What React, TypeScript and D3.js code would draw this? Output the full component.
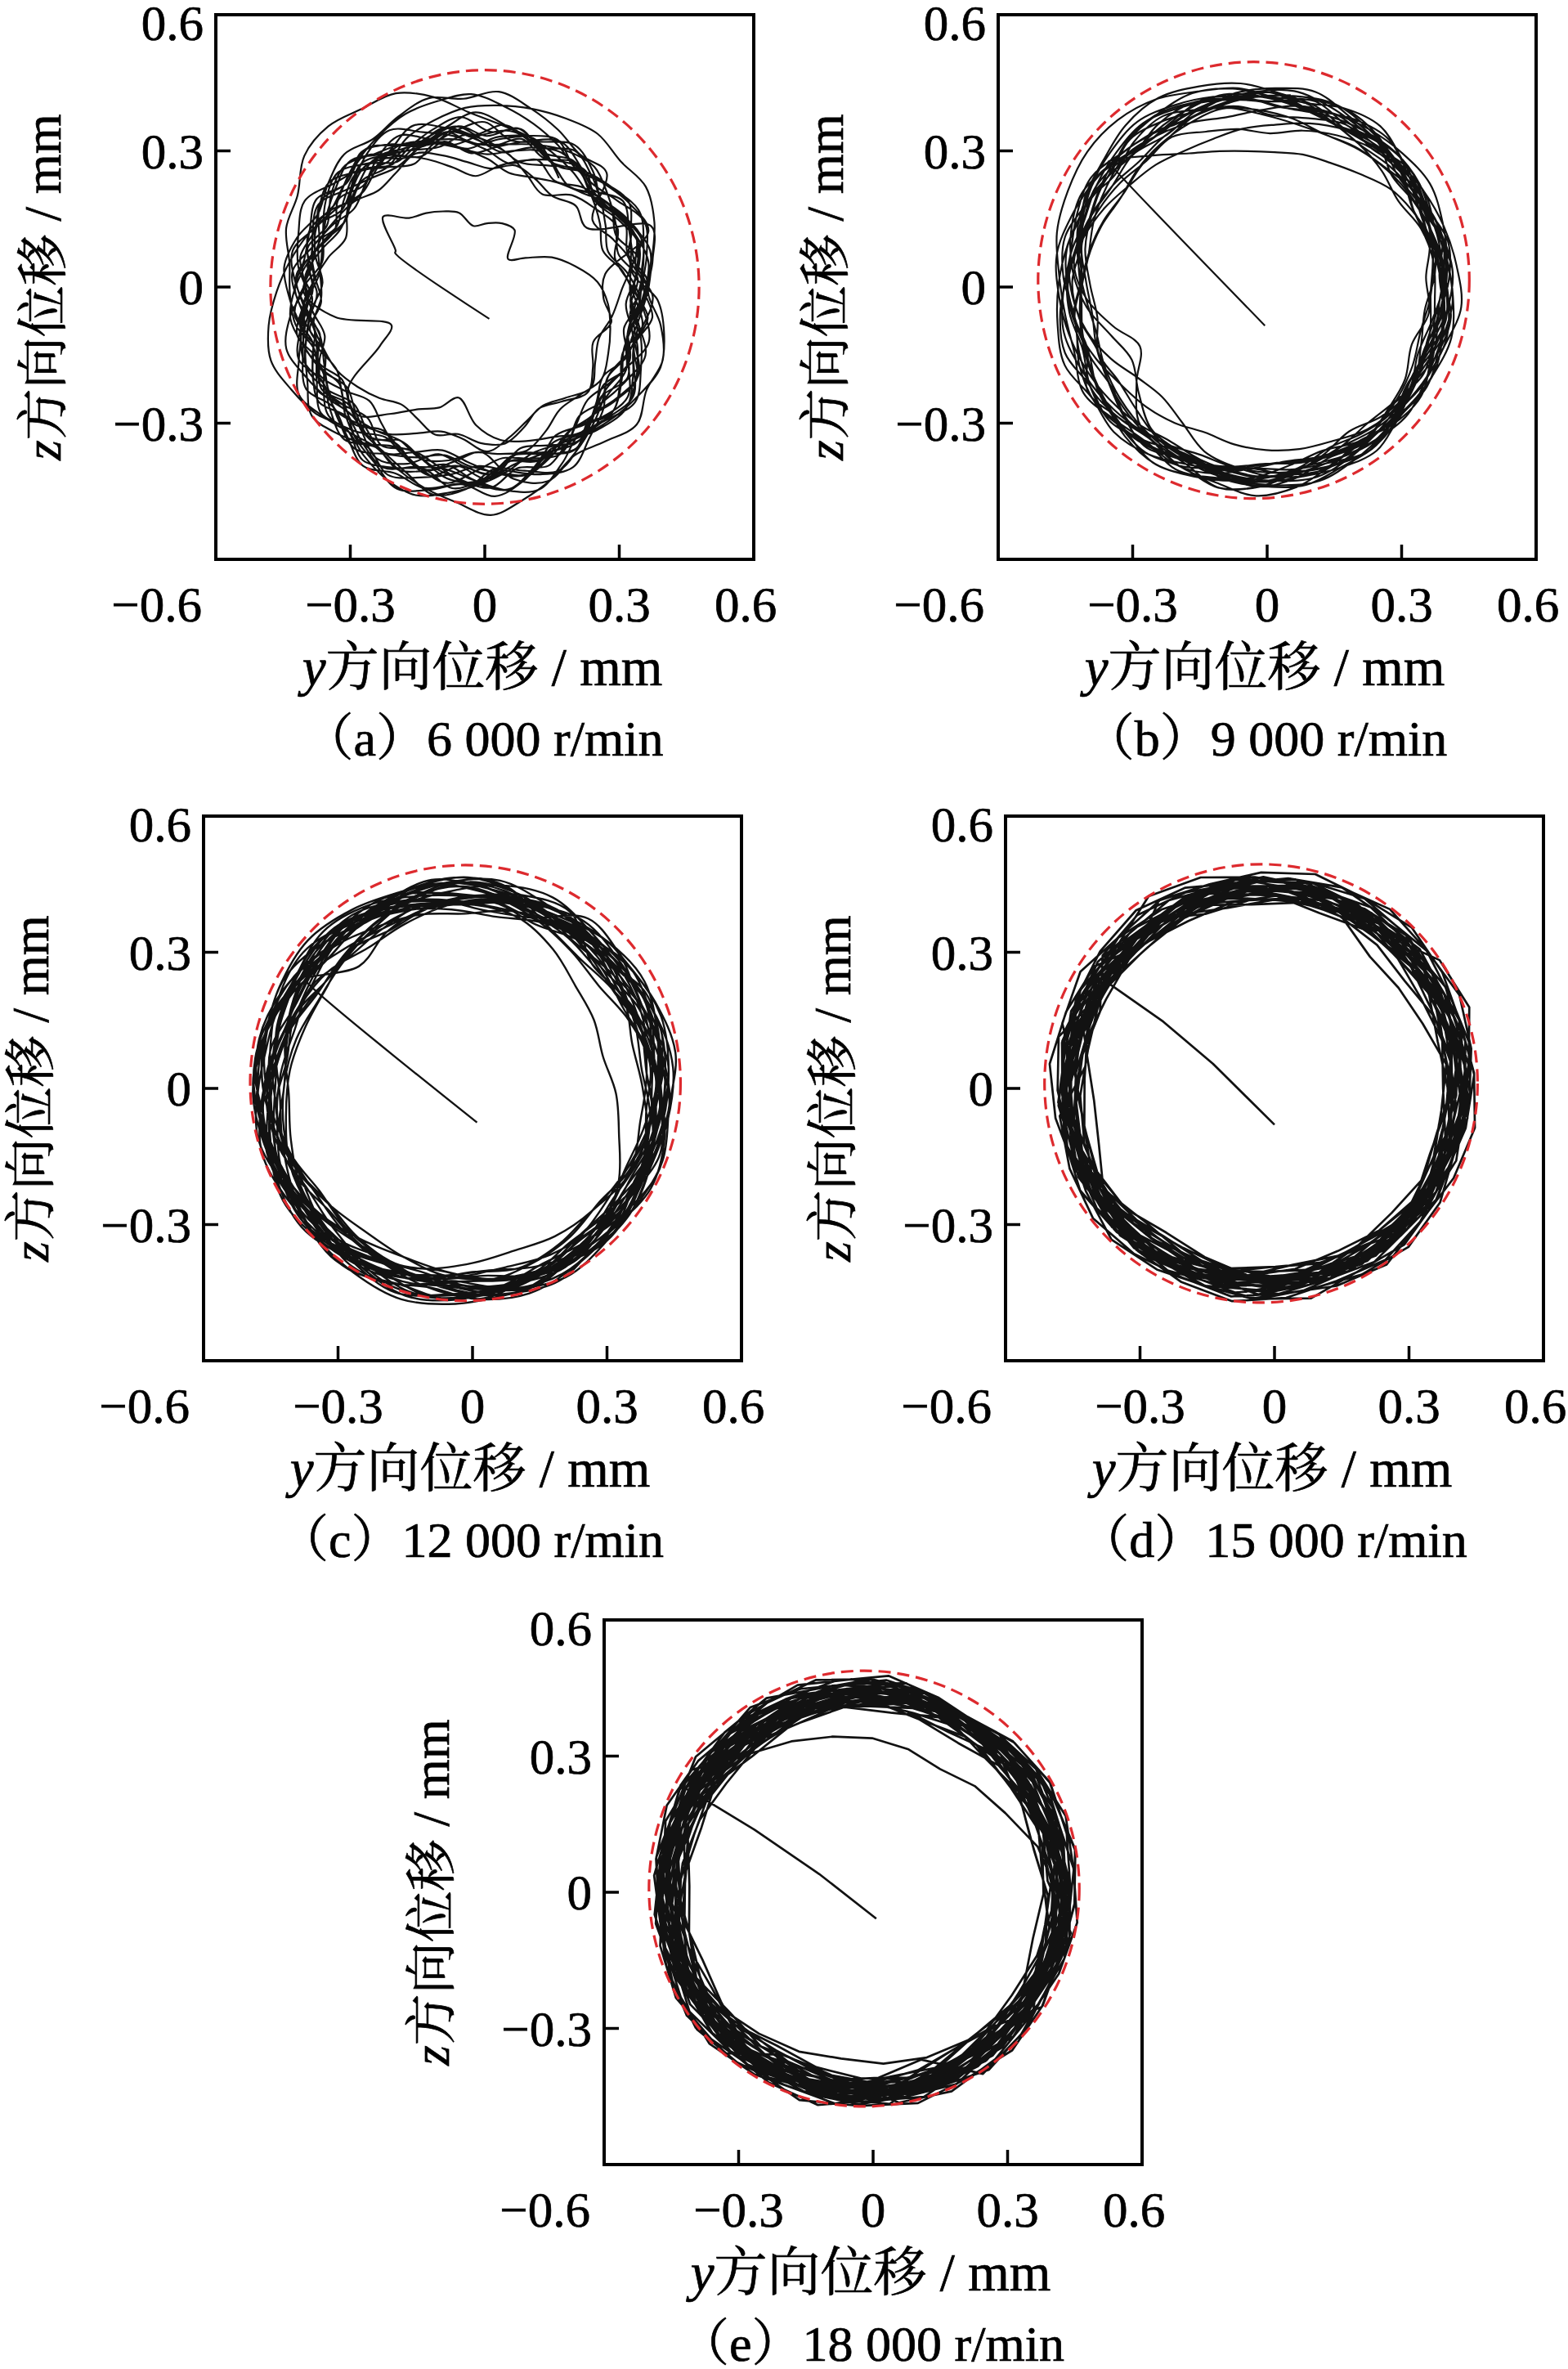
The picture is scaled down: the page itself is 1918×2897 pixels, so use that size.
import React from "react";
import * as d3 from "d3";

const W = 1918;
const H = 2897;
const PW = 658;
const PH = 666;

const FONT = "'Liberation Serif','Times New Roman','Noto Serif CJK SC','Noto Sans CJK SC',serif";

// axis ticks (mm)
const tickValues = [-0.6, -0.3, 0, 0.3, 0.6];
const innerTicks = [-0.3, 0, 0.3];
const yLabelTicks = [-0.3, 0, 0.3, 0.6];

// panel titles
const titles = ["（a）6 000 r/min", "（b）9 000 r/min", "（c）12 000 r/min", "（d）15 000 r/min", "（e）18 000 r/min"];

// red dashed reference circles: centre (y, z) and radius, mm
const ringCenters: [number, number][] = [[0, 0], [-0.03, 0.015], [-0.016, 0.012], [-0.03, 0.011], [-0.02, 0.008]];
const ringRadius = [0.478, 0.481, 0.48, 0.483, 0.48];

// orbit centres (y, z), mm
const orbitCenters: [number, number][] = [[-0.035, -0.035], [-0.025, 0], [-0.02, -0.005], [-0.024, 0.006], [-0.02, 0]];

// sampling: angle of first orbit sample and angle advanced per sample (deg, clockwise)
const startAngles = [145, 140, 145, 145, 145];
const sampleSteps = [9.7, 11.6, 14.6, 14.55, 14.5];

// start-up paths from rest to the orbit, (y, z) mm
const startA: [number, number][] = [[0.01, -0.07], [-0.2, 0.075]];
const startB: [number, number][] = [[-0.005, -0.085], [-0.35, 0.27]];
const startC: [number, number][] = [[0.01, -0.075], [-0.37, 0.235]];
const startD: [number, number][] = [[0.0, -0.08], [-0.137, 0.054], [-0.248, 0.147], [-0.382, 0.24]];
const startE: [number, number][] = [[0.007, -0.058], [-0.12, 0.04], [-0.265, 0.138], [-0.388, 0.212], [-0.43, 0.235]];

// orbit radius samples, one row per revolution, 0.01 mm
const orbitA = [
  [20, 27, 23, 22, 21, 20, 17, 18, 19, 19, 13, 16, 21, 25, 29, 31, 32, 33, 34, 32, 31, 33, 35, 34, 33, 35, 36, 34, 35, 36, 37, 36, 38, 37, 39, 38],
  [39, 41, 38, 40, 37, 36, 38, 35, 37, 39, 36, 34, 37, 35, 33, 36, 38, 35, 37, 34, 36, 38, 35, 33, 31, 27, 21, 24, 26, 30, 35, 33, 22, 18, 30, 37],
  [36, 38, 40, 37, 35, 34, 36, 39, 37, 35, 33, 35, 38, 36, 34, 32, 35, 37, 39, 36, 38, 40, 37, 35, 38, 36, 39, 41, 38, 40, 42, 39, 41, 38, 36, 39],
  [40, 41, 44, 45, 49, 50, 49, 49, 46, 42, 40, 39, 38, 37, 36, 38, 40, 41, 39, 37, 36, 38, 40, 39, 37, 38, 36, 39, 40, 42, 41, 43, 40, 38, 41, 39],
  [37, 35, 38, 36, 39, 41, 38, 36, 39, 41, 43, 44, 45, 46, 47, 46, 47, 45, 42, 40, 38, 37, 39, 36, 38, 40, 37, 35, 38, 36, 39, 37, 35, 38, 40, 37],
  [34, 36, 33, 35, 37, 34, 36, 38, 35, 33, 36, 34, 32, 30, 31, 33, 35, 38, 36, 39, 37, 40, 38, 41, 39, 37, 40, 38, 41, 43, 40, 42, 44, 41, 39, 36],
  [38, 36, 35, 37, 39, 36, 34, 37, 35, 38, 40, 37, 36, 34, 32, 35, 33, 36, 38, 40, 37, 39, 36, 38, 41, 39, 37, 40, 42, 39, 37, 41, 43, 40, 38, 37],
  [35, 33, 36, 34, 37, 35, 33, 31, 34, 36, 38, 35, 37, 39, 36, 34, 31, 29, 33, 35, 37, 34, 36, 39, 41, 38, 36, 37, 39, 36, 34, 38, 40, 37, 35, 36],
  [39, 37, 34, 36, 33, 35, 37, 36, 38, 35, 37, 40, 42, 39, 37, 35, 36, 38, 40, 41, 39, 37, 35, 38, 36, 39, 41, 43, 40, 38, 41, 44, 42, 39, 37, 38],
  [41, 39, 37, 40, 38, 36, 39, 37, 34, 36, 39, 41, 38, 36, 33, 30, 28, 31, 34, 37, 39, 36, 38, 40, 38, 35, 37, 39, 42, 40, 38, 36, 39, 42, 40, 39],
  [36, 34, 37, 35, 33, 36, 38, 40, 39, 37, 35, 33, 36, 38, 35, 37, 39, 42, 40, 38, 36, 34, 37, 39, 40, 38, 36, 38, 37, 35, 38, 40, 43, 41, 38, 36],
  [38, 40, 42, 39, 41, 43, 40, 38, 36, 34, 37, 35, 33, 36, 39, 37, 34, 36, 33, 35, 38, 41, 39, 37, 38, 40, 38, 41, 39, 37, 35, 37, 39, 41, 43, 40],
  [33, 35, 38, 36, 34, 37, 35, 33, 35, 38, 36, 39, 41, 43, 40, 38, 35, 37, 36, 34, 37, 39, 41, 38, 40, 42, 39, 37, 36, 38, 41, 39, 37, 35, 38, 37],
  [37, 39, 36, 38, 40, 38, 41, 39, 37, 40, 38, 36, 34, 35, 37, 39, 41, 38, 36, 35, 37, 35, 38, 36, 39, 37, 41, 39, 38, 40, 37, 39, 41, 42, 40, 38],
  [40, 38, 41, 39, 37, 35, 37, 34, 36, 39, 37, 35, 38, 40, 37, 35, 33, 35, 38, 37, 39, 41, 38, 40, 37, 39, 38, 40, 43, 41, 39, 41, 38, 40, 42, 39],
  [39, 37, 35, 38, 36, 34, 38, 40, 37, 35, 38, 36, 39, 37, 35, 38, 36, 39, 41, 39, 38, 36, 39, 37, 40, 38, 41, 39, 37, 40, 42, 40, 38, 36, 38, 37],
  [37, 36, 38, 40, 38, 35, 33, 35, 38, 36, 34, 37, 39, 37, 35, 33, 36, 38, 37, 39, 41, 38, 36, 38, 40, 37, 39, 42, 40, 37, 39, 37, 40, 38, 36, 38],
  [35, 37, 39, 37, 40, 38, 36, 34, 36, 38, 41, 39, 37, 35, 34, 36, 39, 41, 38, 36, 34, 36, 38, 37, 35, 37, 39, 38, 36, 39, 41, 43, 41, 39, 37, 36],
  [38, 41, 39, 36, 38, 40, 42, 39, 36, 38, 35, 37, 36, 38, 40, 42, 40, 37, 39, 38, 40, 38, 41, 39, 36, 38, 36, 34, 37, 39, 38, 36, 39, 41, 39, 38],
  [36, 38, 36, 34, 36, 39, 37, 35, 37, 40, 38, 36, 33, 31, 34, 37, 35, 37, 35, 37, 39, 37, 34, 36, 38, 41, 39, 37, 40, 38, 36, 38, 36, 39, 41, 37],
  [42, 44, 45, 43, 41, 39, 37, 36, 38, 40, 42, 44, 43, 41, 39, 42, 44, 46, 45, 43, 41, 39, 37, 38, 40, 42, 44, 45, 46, 44, 42, 40, 38, 40, 42, 43],
  [31, 30, 32, 29, 31, 33, 30, 28, 30, 32, 31, 29, 30, 28, 27, 29, 31, 33, 34, 35, 33, 34, 36, 35, 34, 32, 33, 35, 33, 31, 30, 32, 31, 30, 32, 31],
  [44, 42, 40, 43, 45, 44, 46, 43, 41, 43, 45, 47, 44, 42, 40, 38, 39, 41, 43, 40, 38, 40, 42, 41, 39, 41, 43, 42, 44, 46, 45, 47, 45, 43, 41, 42],
  [33, 35, 37, 34, 32, 30, 31, 33, 30, 28, 29, 31, 33, 30, 29, 31, 34, 36, 38, 37, 39, 38, 36, 37, 35, 33, 34, 36, 35, 37, 36, 34, 33, 35, 37, 34],
];

const orbitB = [
  [43, 37, 33, 31, 30, 30, 31, 32, 34, 37, 39, 41, 42, 41, 40, 41, 42, 41, 40, 39, 40, 41, 40, 39, 35, 32, 34, 38, 41, 43],
  [44, 42, 40, 41, 43, 42, 40, 41, 43, 44, 42, 41, 43, 42, 40, 39, 41, 40, 38, 40, 42, 43, 41, 40, 42, 44, 43, 45, 44, 42],
  [41, 43, 44, 46, 47, 46, 45, 43, 42, 40, 41, 43, 42, 44, 43, 41, 42, 44, 43, 41, 43, 42, 40, 41, 43, 42, 44, 43, 41, 42],
  [42, 40, 38, 36, 35, 34, 34, 35, 36, 38, 40, 42, 41, 39, 40, 42, 43, 41, 40, 42, 41, 39, 40, 42, 43, 44, 42, 43, 45, 43],
  [43, 44, 46, 47, 48, 48, 47, 45, 44, 42, 43, 41, 42, 40, 41, 43, 42, 44, 42, 41, 43, 44, 42, 41, 40, 42, 43, 41, 42, 44],
  [40, 41, 39, 41, 42, 40, 42, 43, 41, 40, 38, 39, 41, 40, 42, 41, 43, 42, 44, 43, 41, 42, 44, 43, 45, 46, 44, 43, 41, 42],
  [43, 42, 41, 43, 44, 42, 41, 43, 42, 41, 43, 44, 45, 43, 42, 41, 39, 40, 38, 39, 37, 39, 40, 42, 41, 43, 44, 42, 41, 43],
  [41, 39, 38, 37, 38, 40, 39, 38, 37, 38, 36, 35, 34, 36, 38, 40, 41, 42, 43, 41, 42, 40, 41, 43, 44, 43, 42, 44, 45, 43],
  [44, 43, 42, 40, 41, 39, 40, 42, 41, 43, 44, 45, 44, 42, 41, 40, 42, 39, 40, 41, 40, 38, 39, 41, 40, 42, 43, 42, 44, 45],
  [42, 41, 40, 39, 38, 40, 41, 40, 42, 41, 40, 39, 41, 42, 41, 43, 44, 43, 41, 42, 43, 44, 43, 42, 40, 41, 40, 39, 41, 42],
  [41, 42, 44, 45, 44, 46, 45, 44, 43, 42, 41, 43, 44, 43, 42, 43, 41, 40, 42, 43, 41, 40, 41, 42, 43, 44, 43, 45, 44, 43],
  [43, 42, 41, 40, 38, 37, 38, 36, 37, 39, 40, 41, 40, 42, 43, 42, 41, 42, 40, 41, 42, 43, 42, 44, 43, 41, 40, 42, 43, 42],
  [42, 43, 42, 41, 40, 41, 39, 40, 41, 42, 41, 40, 39, 38, 39, 40, 41, 43, 42, 44, 45, 43, 42, 41, 42, 41, 42, 43, 42, 44],
  [44, 45, 44, 43, 41, 42, 43, 42, 41, 40, 39, 38, 37, 36, 37, 38, 40, 41, 42, 41, 42, 41, 42, 43, 44, 45, 46, 44, 43, 42],
  [42, 41, 40, 39, 40, 41, 42, 43, 44, 43, 41, 42, 43, 42, 43, 41, 40, 41, 40, 38, 37, 37, 38, 39, 40, 41, 42, 41, 40, 41],
  [41, 40, 38, 37, 36, 35, 34, 35, 36, 37, 39, 41, 42, 41, 40, 39, 40, 41, 42, 43, 42, 41, 40, 39, 40, 41, 42, 43, 44, 43],
  [43, 44, 43, 42, 41, 42, 43, 44, 45, 43, 42, 41, 40, 39, 38, 39, 40, 41, 40, 39, 38, 39, 41, 42, 43, 44, 45, 44, 43, 42],
  [41, 40, 41, 42, 43, 42, 41, 40, 39, 40, 41, 42, 43, 44, 43, 42, 43, 44, 42, 41, 40, 41, 42, 41, 40, 39, 38, 37, 39, 40],
  [40, 41, 42, 40, 39, 40, 41, 42, 43, 44, 45, 44, 42, 41, 40, 39, 38, 37, 36, 37, 38, 39, 40, 39, 38, 37, 38, 39, 41, 42],
  [42, 43, 44, 43, 42, 41, 40, 41, 42, 41, 40, 39, 40, 41, 42, 43, 44, 45, 44, 43, 42, 41, 40, 41, 42, 43, 44, 43, 42, 41],
  [41, 40, 39, 38, 39, 40, 41, 42, 43, 42, 40, 38, 34, 32, 33, 36, 39, 41, 42, 41, 42, 43, 44, 43, 42, 41, 40, 41, 42, 43],
  [43, 42, 43, 44, 45, 44, 43, 42, 41, 40, 39, 40, 41, 42, 43, 42, 41, 40, 39, 40, 41, 42, 41, 40, 41, 42, 43, 44, 43, 42],
  [42, 41, 40, 41, 42, 43, 44, 43, 42, 43, 44, 43, 42, 41, 40, 40, 34, 29, 33, 38, 41, 40, 41, 42, 41, 40, 41, 42, 41, 40],
  [40, 41, 42, 41, 40, 39, 40, 41, 42, 43, 44, 45, 44, 43, 42, 41, 40, 39, 38, 37, 38, 40, 42, 43, 44, 45, 44, 43, 42, 43],
];

const orbitC = [
  [43, 36, 39, 41, 41, 40, 37, 34, 33, 32, 34, 36, 40, 43, 44, 43, 42, 43, 44, 45, 44, 45, 46, 45],
  [45, 43, 44, 42, 41, 42, 43, 41, 42, 44, 45, 43, 44, 42, 41, 43, 44, 42, 45, 46, 44, 45, 47, 46],
  [46, 44, 45, 43, 44, 46, 44, 43, 41, 40, 42, 43, 45, 44, 42, 41, 43, 41, 42, 44, 45, 46, 44, 45],
  [44, 42, 43, 41, 40, 41, 43, 44, 45, 43, 46, 45, 43, 44, 42, 43, 45, 44, 43, 41, 42, 44, 45, 44],
  [43, 44, 46, 47, 45, 44, 42, 43, 41, 39, 38, 40, 42, 41, 43, 44, 42, 43, 44, 46, 45, 47, 46, 44],
  [45, 47, 46, 45, 46, 44, 45, 46, 44, 45, 43, 41, 43, 45, 44, 43, 45, 44, 46, 44, 43, 42, 44, 43],
  [42, 40, 39, 38, 38, 40, 39, 41, 42, 44, 45, 46, 44, 45, 43, 42, 41, 43, 44, 46, 45, 46, 44, 43],
  [44, 45, 43, 44, 42, 43, 45, 43, 41, 42, 40, 42, 43, 44, 46, 45, 47, 45, 43, 42, 44, 45, 47, 45],
  [43, 41, 42, 40, 41, 43, 42, 44, 45, 43, 44, 45, 44, 42, 41, 43, 41, 40, 42, 43, 44, 45, 46, 44],
  [45, 44, 46, 45, 47, 46, 44, 45, 43, 41, 42, 43, 42, 41, 40, 42, 44, 43, 45, 46, 44, 43, 42, 44],
  [44, 42, 41, 43, 44, 42, 41, 40, 38, 39, 41, 43, 45, 44, 46, 45, 43, 44, 42, 41, 43, 44, 45, 46],
  [46, 44, 43, 42, 41, 40, 39, 38, 39, 41, 44, 45, 43, 42, 44, 45, 46, 45, 44, 42, 43, 45, 44, 46],
  [44, 46, 47, 45, 44, 42, 43, 44, 45, 46, 44, 42, 43, 41, 42, 43, 45, 43, 42, 44, 45, 46, 47, 45],
  [43, 42, 44, 45, 46, 47, 45, 43, 44, 42, 43, 45, 46, 47, 45, 44, 42, 41, 40, 42, 43, 44, 43, 44],
  [45, 43, 42, 41, 40, 42, 43, 45, 46, 44, 43, 41, 40, 39, 41, 42, 44, 45, 46, 44, 46, 47, 45, 44],
  [44, 45, 43, 42, 41, 43, 44, 46, 47, 45, 44, 43, 45, 46, 44, 42, 41, 40, 42, 43, 44, 46, 44, 45],
  [46, 45, 43, 44, 45, 46, 47, 45, 43, 42, 40, 39, 41, 43, 44, 46, 47, 45, 44, 43, 41, 43, 44, 45],
  [45, 44, 42, 41, 39, 38, 39, 41, 43, 45, 46, 47, 45, 43, 42, 41, 43, 44, 46, 47, 45, 43, 42, 44],
  [43, 44, 46, 45, 43, 41, 43, 44, 46, 44, 42, 41, 42, 44, 45, 47, 45, 44, 42, 41, 43, 44, 46, 45],
  [44, 42, 41, 40, 41, 43, 44, 46, 44, 42, 41, 43, 44, 46, 45, 42, 40, 39, 41, 43, 44, 46, 47, 46],
  [45, 46, 45, 44, 42, 40, 39, 40, 42, 44, 46, 44, 42, 41, 43, 45, 46, 47, 45, 43, 42, 41, 42, 44],
  [44, 43, 45, 46, 47, 46, 44, 42, 41, 40, 41, 43, 45, 46, 45, 43, 44, 46, 45, 43, 44, 45, 44, 43],
  [43, 41, 40, 41, 43, 44, 46, 47, 45, 43, 42, 40, 39, 41, 43, 45, 46, 44, 42, 41, 42, 44, 46, 47],
  [46, 45, 44, 45, 44, 42, 40, 41, 43, 45, 47, 46, 44, 43, 41, 39, 40, 42, 44, 46, 45, 43, 44, 45],
  [45, 43, 42, 40, 39, 38, 37, 38, 40, 42, 44, 45, 46, 45, 43, 42, 43, 45, 46, 44, 43, 44, 46, 45],
  [44, 45, 46, 44, 43, 44, 45, 46, 44, 42, 41, 42, 44, 45, 46, 47, 46, 44, 43, 45, 46, 45, 43, 44],
  [43, 42, 41, 43, 45, 46, 45, 43, 42, 41, 43, 44, 46, 45, 43, 42, 44, 45, 47, 46, 44, 43, 45, 46],
  [40, 41, 39, 40, 42, 41, 39, 40, 41, 40, 42, 41, 40, 39, 41, 42, 40, 41, 39, 40, 41, 42, 40, 41],
  [47, 46, 47, 48, 46, 47, 46, 45, 47, 46, 47, 48, 47, 46, 45, 46, 47, 46, 47, 48, 47, 46, 47, 46],
  [41, 39, 40, 42, 41, 40, 41, 39, 40, 41, 42, 40, 41, 40, 39, 41, 42, 41, 40, 41, 39, 40, 42, 41],
];

const orbitD = [
  [44, 41, 41, 42, 43, 44, 45, 44, 42, 40, 41, 43, 44, 45, 44, 43, 42, 44, 45, 44, 43, 39, 38, 40],
  [45, 43, 44, 45, 46, 45, 43, 44, 42, 43, 44, 45, 44, 42, 43, 44, 45, 46, 44, 43, 44, 45, 46, 44],
  [43, 42, 43, 44, 45, 44, 43, 41, 37, 37, 38, 41, 43, 44, 45, 44, 43, 42, 43, 44, 45, 44, 43, 44],
  [45, 44, 42, 43, 44, 45, 46, 45, 44, 43, 42, 43, 44, 46, 45, 43, 42, 41, 43, 44, 45, 46, 45, 46],
  [44, 45, 46, 45, 44, 43, 42, 41, 42, 44, 45, 46, 45, 44, 43, 42, 44, 45, 44, 43, 42, 43, 44, 45],
  [43, 42, 41, 42, 43, 44, 45, 44, 43, 42, 41, 42, 43, 44, 45, 44, 43, 42, 43, 44, 45, 46, 45, 44],
  [44, 43, 42, 41, 40, 41, 42, 43, 44, 45, 44, 43, 48, 49, 46, 44, 43, 44, 45, 44, 43, 42, 43, 44],
  [45, 46, 45, 44, 43, 42, 43, 44, 45, 44, 43, 42, 41, 42, 43, 44, 40, 42, 43, 44, 45, 44, 43, 42],
  [42, 43, 44, 45, 44, 43, 42, 41, 40, 41, 42, 43, 44, 45, 44, 43, 42, 43, 44, 45, 44, 43, 44, 45],
  [46, 45, 44, 43, 42, 41, 42, 43, 44, 45, 46, 45, 44, 43, 42, 41, 42, 43, 44, 43, 42, 41, 42, 43],
  [44, 45, 46, 47, 46, 45, 44, 43, 42, 43, 44, 45, 44, 43, 42, 43, 44, 45, 46, 45, 44, 43, 44, 45],
  [43, 42, 41, 42, 43, 44, 43, 42, 41, 40, 41, 42, 43, 44, 45, 46, 45, 44, 43, 42, 43, 44, 45, 44],
  [45, 44, 45, 46, 45, 44, 43, 44, 45, 46, 45, 44, 43, 42, 41, 42, 43, 44, 45, 46, 45, 44, 43, 44],
  [42, 41, 42, 43, 44, 45, 46, 45, 44, 43, 42, 41, 42, 43, 44, 45, 44, 43, 42, 41, 42, 43, 44, 45],
  [44, 43, 42, 43, 44, 43, 42, 41, 42, 43, 44, 45, 49, 48, 46, 45, 44, 43, 44, 45, 46, 45, 44, 43],
  [43, 44, 45, 44, 43, 42, 41, 42, 43, 42, 41, 42, 43, 44, 45, 44, 43, 44, 45, 44, 43, 42, 41, 42],
  [43, 44, 45, 46, 45, 44, 45, 46, 45, 44, 43, 42, 43, 44, 43, 42, 41, 42, 43, 44, 45, 46, 45, 44],
  [45, 44, 43, 42, 41, 42, 43, 44, 43, 42, 41, 40, 41, 42, 43, 44, 45, 46, 45, 44, 43, 44, 45, 46],
  [44, 43, 44, 45, 46, 47, 46, 45, 44, 43, 44, 45, 46, 45, 44, 43, 42, 41, 42, 43, 44, 45, 44, 43],
  [42, 43, 42, 41, 42, 43, 44, 45, 46, 45, 44, 43, 42, 43, 44, 45, 46, 45, 44, 43, 42, 41, 42, 43],
  [44, 45, 44, 43, 42, 41, 40, 41, 42, 43, 44, 45, 44, 43, 42, 43, 44, 45, 46, 45, 44, 45, 46, 45],
  [44, 43, 42, 43, 44, 45, 44, 43, 42, 41, 42, 43, 44, 45, 46, 45, 44, 43, 42, 43, 44, 45, 44, 43],
  [43, 44, 45, 46, 45, 44, 43, 42, 43, 44, 45, 46, 45, 44, 43, 42, 41, 42, 43, 44, 43, 42, 43, 44],
  [45, 46, 45, 44, 43, 44, 45, 44, 43, 42, 41, 42, 43, 42, 43, 44, 45, 44, 43, 42, 43, 44, 45, 46],
  [45, 44, 43, 42, 43, 44, 45, 46, 45, 44, 43, 44, 45, 44, 43, 44, 43, 42, 41, 42, 43, 44, 43, 44],
  [43, 42, 43, 44, 45, 44, 43, 42, 41, 42, 43, 44, 45, 46, 45, 44, 45, 46, 45, 44, 43, 42, 43, 42],
  [42, 43, 44, 43, 42, 41, 42, 43, 44, 45, 44, 43, 42, 41, 42, 43, 44, 43, 44, 45, 46, 45, 44, 45],
  [46, 45, 44, 45, 46, 45, 44, 43, 42, 43, 44, 45, 46, 45, 44, 43, 42, 43, 44, 43, 42, 43, 44, 45],
  [44, 43, 42, 41, 42, 43, 44, 45, 44, 43, 42, 43, 44, 45, 44, 43, 44, 45, 46, 45, 44, 43, 42, 43],
  [43, 44, 45, 44, 43, 42, 43, 44, 45, 46, 45, 44, 43, 42, 43, 44, 45, 44, 43, 44, 45, 46, 45, 44],
  [40, 41, 42, 41, 40, 39, 41, 42, 41, 40, 42, 41, 40, 41, 42, 40, 39, 41, 42, 41, 40, 41, 42, 41],
  [47, 46, 47, 48, 47, 46, 45, 46, 47, 48, 47, 46, 47, 46, 47, 48, 47, 46, 45, 46, 47, 48, 47, 46],
  [41, 42, 40, 41, 42, 43, 41, 40, 41, 42, 40, 41, 43, 42, 41, 40, 42, 41, 40, 42, 43, 42, 41, 40],
  [46, 47, 46, 45, 46, 47, 48, 47, 46, 47, 46, 45, 47, 48, 47, 46, 47, 46, 47, 48, 46, 45, 46, 47],
  [42, 41, 43, 42, 40, 41, 42, 41, 43, 42, 41, 40, 41, 42, 43, 41, 40, 42, 41, 40, 42, 43, 41, 42],
  [47, 48, 46, 47, 46, 45, 46, 47, 48, 47, 46, 47, 46, 45, 46, 48, 47, 46, 47, 46, 47, 48, 47, 46],
  [40, 42, 41, 40, 41, 43, 42, 40, 41, 42, 43, 41, 40, 42, 41, 40, 41, 43, 42, 41, 40, 41, 42, 43],
  [46, 45, 46, 47, 48, 47, 45, 46, 47, 46, 47, 48, 47, 46, 45, 46, 47, 46, 48, 47, 46, 45, 46, 47],
];

const orbitE = [
  [47, 40, 37, 35, 34, 33, 32, 34, 36, 40, 43, 44, 45, 44, 45, 46, 45, 44, 45, 46, 45, 46, 47, 46],
  [45, 44, 43, 44, 45, 46, 45, 44, 43, 42, 43, 44, 45, 44, 43, 42, 43, 44, 45, 44, 45, 46, 45, 44],
  [44, 43, 42, 41, 40, 41, 42, 43, 44, 45, 46, 45, 44, 43, 44, 45, 46, 45, 44, 43, 42, 43, 44, 45],
  [46, 45, 44, 43, 42, 43, 44, 45, 44, 43, 42, 41, 42, 43, 44, 45, 44, 43, 42, 43, 44, 45, 46, 45],
  [45, 46, 45, 44, 43, 42, 41, 42, 43, 44, 45, 44, 43, 42, 41, 42, 43, 44, 45, 46, 45, 44, 43, 44],
  [43, 42, 41, 40, 41, 42, 43, 44, 45, 44, 43, 42, 43, 44, 45, 46, 45, 44, 43, 44, 45, 46, 45, 44],
  [44, 45, 46, 45, 44, 43, 42, 43, 44, 45, 46, 45, 44, 43, 42, 43, 44, 45, 44, 43, 42, 43, 44, 45],
  [45, 44, 43, 42, 41, 40, 39, 40, 41, 42, 43, 44, 45, 46, 45, 44, 43, 42, 43, 44, 45, 44, 43, 44],
  [44, 43, 44, 45, 46, 45, 44, 43, 42, 41, 42, 43, 44, 45, 44, 43, 44, 45, 46, 45, 44, 43, 42, 43],
  [43, 44, 45, 44, 43, 42, 43, 44, 45, 46, 45, 44, 43, 42, 41, 40, 41, 42, 43, 44, 45, 46, 45, 44],
  [44, 45, 44, 43, 42, 41, 42, 43, 44, 43, 42, 41, 42, 43, 44, 45, 46, 45, 44, 43, 44, 45, 46, 45],
  [45, 44, 43, 44, 45, 46, 45, 44, 43, 42, 41, 42, 43, 44, 45, 44, 43, 42, 41, 42, 43, 44, 45, 46],
  [46, 45, 44, 43, 42, 43, 44, 45, 46, 45, 44, 43, 42, 43, 44, 45, 44, 43, 44, 45, 46, 45, 44, 43],
  [43, 42, 43, 44, 45, 44, 43, 42, 41, 42, 43, 44, 45, 46, 45, 44, 43, 42, 43, 44, 45, 46, 47, 46],
  [45, 44, 43, 42, 41, 42, 43, 44, 45, 44, 43, 42, 41, 40, 41, 42, 43, 44, 45, 46, 45, 44, 45, 44],
  [44, 45, 46, 45, 44, 43, 42, 41, 42, 43, 44, 45, 46, 45, 44, 43, 42, 43, 44, 45, 44, 43, 44, 45],
  [45, 44, 43, 42, 43, 44, 45, 46, 45, 44, 43, 42, 43, 44, 45, 46, 45, 44, 43, 42, 43, 44, 45, 44],
  [43, 42, 41, 40, 39, 38, 37, 38, 39, 41, 43, 44, 45, 44, 43, 42, 43, 44, 45, 46, 45, 44, 43, 44],
  [44, 45, 44, 43, 44, 45, 46, 45, 44, 43, 42, 41, 42, 43, 44, 45, 44, 43, 42, 43, 44, 45, 46, 45],
  [45, 46, 45, 44, 43, 42, 43, 44, 45, 46, 45, 44, 43, 44, 45, 44, 43, 42, 41, 42, 43, 44, 45, 44],
  [43, 44, 45, 46, 45, 44, 43, 42, 41, 40, 39, 41, 43, 44, 45, 46, 45, 44, 43, 44, 45, 46, 45, 44],
  [44, 43, 42, 43, 44, 45, 44, 43, 42, 43, 44, 45, 46, 45, 44, 43, 42, 41, 40, 41, 42, 43, 44, 45],
  [46, 45, 44, 45, 46, 45, 44, 43, 44, 45, 44, 43, 42, 43, 44, 45, 46, 45, 44, 43, 44, 45, 44, 43],
  [42, 43, 44, 45, 44, 43, 42, 41, 42, 43, 44, 45, 44, 43, 42, 43, 44, 45, 46, 45, 44, 43, 42, 43],
  [44, 45, 46, 47, 46, 45, 44, 43, 42, 43, 44, 45, 46, 45, 44, 43, 42, 43, 44, 45, 46, 45, 44, 45],
  [45, 44, 43, 42, 43, 44, 43, 42, 43, 44, 45, 46, 45, 44, 43, 44, 45, 44, 43, 42, 41, 42, 43, 44],
  [44, 43, 44, 45, 44, 43, 42, 43, 44, 45, 46, 45, 44, 43, 42, 41, 42, 43, 44, 45, 44, 45, 46, 45],
  [46, 45, 44, 43, 42, 41, 42, 43, 44, 45, 44, 43, 44, 45, 46, 45, 44, 43, 44, 45, 46, 45, 44, 43],
  [43, 44, 45, 44, 43, 44, 45, 46, 45, 44, 43, 42, 43, 44, 45, 46, 45, 44, 43, 42, 43, 44, 45, 44],
  [44, 43, 42, 41, 42, 43, 44, 45, 46, 45, 44, 43, 42, 43, 44, 43, 42, 43, 44, 45, 46, 47, 46, 45],
  [45, 46, 45, 44, 43, 42, 43, 44, 43, 42, 43, 44, 45, 46, 45, 44, 43, 44, 45, 46, 45, 44, 43, 44],
  [44, 45, 44, 43, 42, 43, 44, 45, 46, 45, 44, 43, 42, 41, 42, 43, 44, 45, 44, 43, 44, 45, 44, 43],
  [43, 42, 43, 44, 45, 46, 45, 44, 43, 42, 43, 44, 45, 44, 43, 42, 43, 44, 45, 46, 45, 44, 45, 46],
  [46, 45, 44, 43, 44, 45, 46, 45, 44, 43, 42, 43, 44, 45, 46, 45, 44, 43, 42, 43, 44, 45, 44, 43],
  [43, 44, 45, 46, 45, 44, 43, 42, 43, 44, 45, 44, 43, 42, 43, 44, 45, 46, 45, 44, 43, 42, 43, 44],
  [44, 43, 42, 43, 44, 45, 44, 43, 42, 41, 42, 43, 44, 45, 46, 45, 44, 43, 44, 45, 46, 45, 44, 43],
  [40, 39, 41, 40, 42, 41, 39, 40, 41, 42, 40, 39, 41, 42, 41, 40, 39, 41, 42, 40, 41, 42, 41, 40],
  [47, 48, 47, 46, 47, 48, 47, 46, 45, 46, 47, 46, 45, 46, 47, 48, 47, 46, 47, 48, 47, 48, 47, 46],
  [41, 42, 40, 41, 43, 42, 41, 40, 42, 43, 41, 40, 42, 41, 40, 42, 43, 42, 41, 40, 41, 43, 42, 41],
  [46, 47, 48, 47, 46, 45, 46, 47, 46, 47, 48, 47, 46, 45, 46, 47, 46, 47, 48, 47, 46, 47, 48, 47],
  [42, 40, 41, 43, 42, 40, 39, 41, 42, 40, 41, 43, 42, 41, 40, 42, 41, 39, 40, 42, 43, 41, 40, 42],
  [47, 46, 45, 47, 48, 47, 46, 47, 46, 45, 46, 47, 48, 47, 46, 45, 47, 48, 47, 46, 47, 46, 47, 48],
  [39, 41, 42, 41, 40, 42, 43, 42, 40, 39, 41, 42, 41, 43, 42, 40, 41, 42, 40, 39, 41, 42, 43, 41],
  [45, 47, 46, 48, 47, 46, 47, 45, 46, 47, 46, 48, 47, 46, 47, 48, 46, 45, 46, 47, 48, 47, 46, 47],
  [41, 40, 42, 43, 41, 40, 41, 42, 40, 41, 43, 42, 40, 41, 42, 41, 40, 42, 41, 43, 42, 40, 41, 42],
  [46, 45, 47, 46, 47, 48, 46, 47, 48, 47, 45, 46, 47, 46, 48, 47, 46, 47, 45, 46, 47, 48, 47, 46],
  [43, 41, 40, 42, 41, 43, 42, 41, 40, 42, 41, 40, 42, 43, 41, 40, 42, 41, 43, 42, 40, 41, 42, 41],
  [47, 46, 47, 48, 46, 45, 47, 46, 47, 48, 47, 46, 45, 47, 46, 47, 48, 46, 47, 46, 45, 47, 48, 47],
];

// panel placement (box top-left in px)
const panelPos: [number, number][] = [[264, 18], [1221, 18], [249, 998], [1230, 998], [739, 1981]];
const traceWidths = [2.2, 2.2, 2.4, 2.7, 2.7];

const panels = [
  { start: startA, orbit: orbitA, curve: d3.curveCatmullRom.alpha(0.5) },
  { start: startB, orbit: orbitB, curve: d3.curveCatmullRom.alpha(0.5) },
  { start: startC, orbit: orbitC, curve: d3.curveCatmullRom.alpha(0.5) },
  { start: startD, orbit: orbitD, curve: d3.curveLinear },
  { start: startE, orbit: orbitE, curve: d3.curveLinear },
].map((p, i) => ({
  ...p,
  left: panelPos[i][0],
  top: panelPos[i][1],
  title: titles[i],
  center: orbitCenters[i],
  a0: startAngles[i],
  step: sampleSteps[i],
  ring: ringCenters[i],
  ringR: ringRadius[i],
  lw: traceWidths[i],
}));

const fmt = (v: number) => (v === 0 ? "0" : (v < 0 ? "\u2212" : "") + Math.abs(v).toFixed(1));

function Panel({ p }: { p: any }) {
  const x = d3.scaleLinear().domain([-0.6, 0.6]).range([p.left, p.left + PW]);
  const y = d3.scaleLinear().domain([-0.6, 0.6]).range([p.top + PH, p.top]);

  // orbit samples in time order -> (y, z)
  const samples: number[] = p.orbit.flat();
  const pts: [number, number][] = [...p.start];
  samples.forEach((r, i) => {
    const a = ((p.a0 - i * p.step) * Math.PI) / 180;
    pts.push([p.center[0] + (r / 100) * Math.cos(a), p.center[1] + (r / 100) * Math.sin(a)]);
  });

  const line = d3
    .line<[number, number]>()
    .x((d) => x(d[0]))
    .y((d) => y(d[1]))
    .curve(p.curve);

  const bottom = p.top + PH;
  const txt = { fontFamily: FONT, fill: "#000", stroke: "#000", strokeWidth: 0.7 };
  return (
    <g>
      <path d={line(pts) || ""} fill="none" stroke="#121212" strokeWidth={p.lw} strokeLinejoin="round" />
      <ellipse
        cx={x(p.ring[0])}
        cy={y(p.ring[1])}
        rx={x(p.ringR) - x(0)}
        ry={y(0) - y(p.ringR)}
        fill="none"
        stroke="#dd2a2e"
        strokeWidth={3.2}
        strokeDasharray="15 8"
      />
      <rect x={p.left} y={p.top} width={PW} height={PH} fill="none" stroke="#000" strokeWidth={4} />
      {innerTicks.map((t) => (
        <g key={"t" + t}>
          <line x1={x(t)} x2={x(t)} y1={bottom} y2={bottom - 18} stroke="#000" strokeWidth={3.5} />
          <line x1={p.left} x2={p.left + 18} y1={y(t)} y2={y(t)} stroke="#000" strokeWidth={3.5} />
        </g>
      ))}
      {tickValues.map((t) => {
        let tx = x(t);
        let anchor = "middle";
        if (t === -0.6) {
          tx = p.left - 17;
          anchor = "end";
        } else if (t === 0.6) {
          tx = x(t) - 10;
        }
        return (
          <text key={"xl" + t} x={tx} y={bottom + 76} textAnchor={anchor} fontSize={61} {...txt}>
            {fmt(t)}
          </text>
        );
      })}
      {yLabelTicks.map((t) => (
        <text key={"yl" + t} x={p.left - 15} y={y(t) + (t === 0.6 ? 31 : 21)} textAnchor="end" fontSize={61} {...txt}>
          {fmt(t)}
        </text>
      ))}
      <text x={p.left + PW / 2 - 3} y={bottom + 154} textAnchor="middle" fontSize={65} {...txt}>
        <tspan fontStyle="italic">y</tspan>方向位移 / mm
      </text>
      <text
        transform={`translate(${p.left - 190},${p.top + PH / 2}) rotate(-90)`}
        textAnchor="middle"
        fontSize={63}
        {...txt}
      >
        <tspan fontStyle="italic">z</tspan>方向位移 / mm
      </text>
      <text x={p.left + PW / 2 - 2} y={bottom + 240} textAnchor="middle" fontSize={62} {...txt}>
        {p.title}
      </text>
    </g>
  );
}

export default function App() {
  return (
    <svg
      width={W}
      height={H}
      viewBox={`0 0 ${W} ${H}`}
      style={{ position: "absolute", left: 0, top: 0, background: "#fff", display: "block" }}
    >
      <rect width={W} height={H} fill="#fff" />
      {panels.map((p, i) => (
        <Panel key={i} p={p} />
      ))}
    </svg>
  );
}
